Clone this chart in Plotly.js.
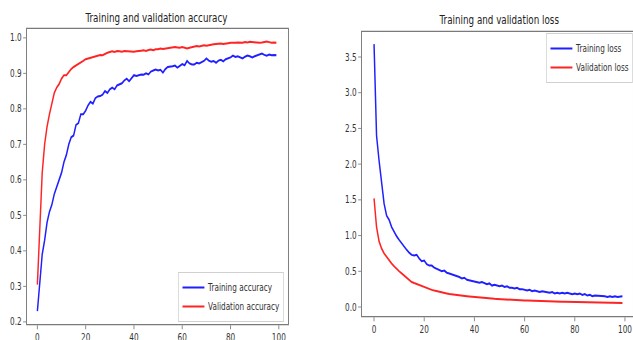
<!DOCTYPE html>
<html>
<head>
<meta charset="utf-8">
<script src="https://cdn.plot.ly/plotly-3.0.1.min.js"></script>
<style>
html,body{margin:0;padding:0;background:#fff;overflow:hidden;}
#wrap{width:633px;height:340px;overflow:hidden;position:relative;}
#chart{width:867px;height:340px;transform:scaleX(0.7301);transform-origin:0 0;}
</style>
</head>
<body>
<div id="wrap"><div id="chart"></div></div>
<script>
const epochs = Array.from({length: 100}, (_, i) => i);

const trainAcc = [0.23,0.32,0.39,0.43,0.48,0.51,0.53,0.56,0.58,0.60,
0.62,0.65,0.67,0.70,0.72,0.725,0.755,0.76,0.785,0.785,
0.795,0.81,0.82,0.815,0.83,0.835,0.836,0.84,0.85,0.845,
0.855,0.86,0.855,0.866,0.868,0.872,0.88,0.885,0.878,0.886,
0.895,0.893,0.895,0.897,0.896,0.90,0.897,0.905,0.908,0.911,
0.908,0.91,0.902,0.912,0.918,0.918,0.92,0.922,0.916,0.921,
0.926,0.923,0.935,0.928,0.925,0.925,0.93,0.928,0.932,0.935,
0.942,0.936,0.933,0.935,0.93,0.936,0.938,0.934,0.94,0.942,
0.945,0.95,0.946,0.948,0.944,0.942,0.947,0.95,0.948,0.945,
0.948,0.95,0.954,0.956,0.952,0.95,0.953,0.951,0.952,0.951];

const valAcc = [0.305,0.47,0.62,0.70,0.75,0.785,0.815,0.845,0.86,0.87,
0.885,0.895,0.895,0.905,0.912,0.918,0.922,0.925,0.93,0.935,
0.94,0.942,0.944,0.946,0.95,0.95,0.952,0.951,0.955,0.958,
0.96,0.962,0.96,0.963,0.962,0.961,0.963,0.962,0.961,0.96,
0.961,0.962,0.962,0.964,0.965,0.963,0.966,0.967,0.965,0.968,
0.968,0.97,0.969,0.97,0.972,0.971,0.972,0.974,0.973,0.972,
0.974,0.972,0.97,0.972,0.974,0.976,0.977,0.976,0.978,0.979,
0.978,0.98,0.981,0.982,0.983,0.984,0.984,0.983,0.985,0.985,
0.986,0.985,0.986,0.987,0.986,0.986,0.988,0.987,0.989,0.988,
0.987,0.988,0.986,0.987,0.988,0.99,0.988,0.986,0.987,0.986];

const trainLoss = [3.68,2.40,2.05,1.75,1.45,1.28,1.22,1.12,1.05,0.99,
0.94,0.89,0.85,0.80,0.76,0.73,0.72,0.73,0.68,0.64,
0.65,0.60,0.58,0.58,0.55,0.53,0.52,0.50,0.51,0.48,
0.47,0.46,0.44,0.43,0.42,0.40,0.41,0.38,0.37,0.37,
0.36,0.35,0.34,0.35,0.33,0.32,0.33,0.30,0.31,0.30,
0.29,0.30,0.28,0.29,0.27,0.27,0.26,0.27,0.25,0.25,
0.24,0.23,0.24,0.22,0.23,0.22,0.21,0.22,0.21,0.20,
0.20,0.21,0.19,0.20,0.19,0.20,0.19,0.20,0.19,0.18,
0.19,0.18,0.19,0.17,0.18,0.16,0.17,0.15,0.16,0.16,
0.15,0.16,0.15,0.14,0.15,0.14,0.15,0.14,0.15,0.15];

const valLoss = [1.52,1.12,0.92,0.82,0.75,0.70,0.65,0.61,0.57,0.53,
0.50,0.47,0.44,0.40,0.37,0.35,0.335,0.32,0.305,0.29,
0.275,0.26,0.25,0.24,0.23,0.22,0.212,0.205,0.198,0.19,
0.183,0.177,0.172,0.167,0.162,0.158,0.154,0.15,0.146,0.142,
0.138,0.135,0.132,0.129,0.126,0.123,0.12,0.118,0.115,0.113,
0.11,0.108,0.106,0.104,0.102,0.10,0.098,0.096,0.094,0.093,
0.091,0.09,0.088,0.087,0.085,0.084,0.083,0.081,0.08,0.079,
0.078,0.077,0.076,0.075,0.074,0.073,0.072,0.071,0.07,0.069,
0.068,0.067,0.066,0.066,0.065,0.064,0.063,0.063,0.062,0.061,
0.06,0.06,0.059,0.058,0.058,0.057,0.056,0.056,0.055,0.055];

const titles = ["Training and validation accuracy", "Training and validation loss"];
const names = ["Training accuracy", "Validation accuracy", "Training loss", "Validation loss"];
const xTicks = [0, 20, 40, 60, 80, 100];
const accTicks = [0.2, 0.3, 0.4, 0.5, 0.6, 0.7, 0.8, 0.9, 1.0];
const accTickText = ["0.2","0.3","0.4","0.5","0.6","0.7","0.8","0.9","1.0"];
const lossTicks = [0, 0.5, 1, 1.5, 2, 2.5, 3, 3.5];
const lossTickText = ["0.0","0.5","1.0","1.5","2.0","2.5","3.0","3.5"];

const FONT = "DejaVu Sans, sans-serif";
const BLUE = "#1f1fff", RED = "#ff2424";
const W = 867, H = 340, REF_W = 633;

const traces = [
  {x: epochs, y: trainAcc, name: names[0], xaxis: "x", yaxis: "y", mode: "lines", line: {color: BLUE, width: 2}, legend: "legend"},
  {x: epochs, y: valAcc, name: names[1], xaxis: "x", yaxis: "y", mode: "lines", line: {color: RED, width: 2}, legend: "legend"},
  {x: epochs, y: trainLoss, name: names[2], xaxis: "x2", yaxis: "y2", mode: "lines", line: {color: BLUE, width: 2}, legend: "legend2"},
  {x: epochs, y: valLoss, name: names[3], xaxis: "x2", yaxis: "y2", mode: "lines", line: {color: RED, width: 2}, legend: "legend2"}
];

const axCommon = {
  showgrid: false, zeroline: false, showline: true, mirror: true,
  linecolor: "#7a7a7a", linewidth: 1.3, ticks: "outside", ticklen: 4, tickcolor: "#7a7a7a",
  tickfont: {family: FONT, size: 10, color: "#333"}
};

const layout = {
  width: W, height: H,
  margin: {l: 0, r: 0, t: 0, b: 0},
  paper_bgcolor: "#fff", plot_bgcolor: "#fff",
  font: {family: FONT, color: "#333"},
  showlegend: true,
  xaxis: Object.assign({}, axCommon, {domain: [27/REF_W, 288/REF_W], range: [-4.3, 103.8], tickvals: xTicks, anchor: "y"}),
  yaxis: Object.assign({}, axCommon, {domain: [1-324/H, 1-29/H], range: [0.194, 1.025], tickvals: accTicks, ticktext: accTickText, anchor: "x"}),
  xaxis2: Object.assign({}, axCommon, {domain: [362/REF_W, 1], range: [-4.8, 103.2], tickvals: xTicks, anchor: "y2"}),
  yaxis2: Object.assign({}, axCommon, {domain: [1-316/H, 1-32/H], range: [-0.126, 3.85], tickvals: lossTicks, ticktext: lossTickText, anchor: "x2"}),
  legend: {x: 284/REF_W, y: 1-322/H, xanchor: "right", yanchor: "bottom", bgcolor: "#fff", bordercolor: "#d0d0d0", borderwidth: 1, font: {family: FONT, size: 10, color: "#333"}, itemwidth: 30, tracegroupgap: 0},
  legend2: {x: 1, y: 1-33/H, xanchor: "right", yanchor: "top", bgcolor: "#fff", bordercolor: "#d0d0d0", borderwidth: 1, font: {family: FONT, size: 10, color: "#333"}, itemwidth: 30, tracegroupgap: 0},
  annotations: [
    {text: titles[0], xref: "paper", yref: "paper", x: 156/REF_W, y: 1-18/H, xanchor: "center", yanchor: "middle", showarrow: false, font: {family: FONT, size: 12, color: "#222"}},
    {text: titles[1], xref: "paper", yref: "paper", x: 499/REF_W, y: 1-20/H, xanchor: "center", yanchor: "middle", showarrow: false, font: {family: FONT, size: 12, color: "#222"}}
  ]
};

Plotly.newPlot("chart", traces, layout, {staticPlot: true, displayModeBar: false});
</script>
</body>
</html>
